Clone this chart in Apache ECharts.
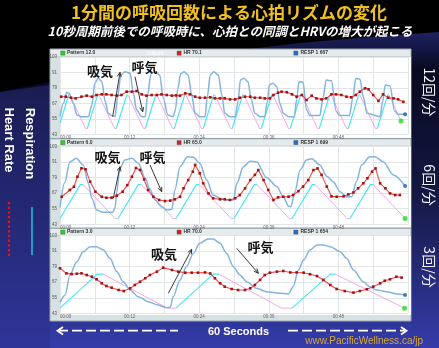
<!DOCTYPE html>
<html><head><meta charset="utf-8">
<script src="https://cdn.jsdelivr.net/npm/echarts@6/dist/echarts.min.js"></script>
<style>html,body{margin:0;padding:0;background:#000;}#c{width:439px;height:348px;}</style>
</head><body><div id="c"></div>
<script>
// ---- tick labels / texts ----
const timeTicks = ['00:00','00:12','00:24','00:36','00:48'];
const yTicks = [43,55,67,79,91,103];
const rateLabels = ['12回/分','6回/分','3回/分'];
const legendPattern = ['Pattern 12.0','Pattern 6.0','Pattern 3.0'];
const legendHR = ['HR 70.1','HR 65.0','HR 70.0'];
const legendResp = ['RESP 1 667','RESP 1 699','RESP 1 654'];

// ---- panel 1 : 12 breaths / min ----
const resp12 = [[0,56.7],[0.6,67.1],[1.15,75.6],[1.55,74.8],[2.3,67.1],[2.9,58],[3.7,56.7],[4.9,56.7],[5.5,65.8],[6.0,82.6],[6.6,86.5],[7.2,83.9],[7.8,68.4],[8.3,59.3],[8.9,57.5],[9.5,56.7],[9.9,70.9],[10.5,89],[11.2,91.6],[12.1,90.3],[12.6,76.1],[13.2,61.9],[14.1,56.7],[14.7,56.7],[15.1,73.5],[15.7,90.3],[16.4,91.6],[17.2,89],[17.8,70.9],[18.6,58],[19.5,56.7],[19.9,62],[20.3,78],[20.8,90],[21.4,91.6],[22.1,89],[22.7,73.5],[23.3,59.3],[24.1,56.7],[25.0,56.7],[25.4,72],[25.9,89],[26.5,91.6],[27.3,89],[27.9,73.5],[28.4,59.3],[29.3,56.7],[30.2,56.7],[30.7,68.4],[31.1,85.2],[31.7,86.5],[32.4,83.9],[33.0,69.6],[33.6,59.3],[34.5,56.7],[35.3,56.7],[35.7,67.1],[36.1,81.3],[36.7,82.6],[37.4,80],[37.9,67.1],[38.5,59.3],[39.4,56.7],[40.4,56.7],[40.8,70],[41.2,83.8],[41.9,83.5],[42.5,62],[43.1,57.5],[44.8,57.5],[45.3,70],[45.9,85.1],[46.8,84.5],[47.6,61],[48.2,57.5],[49.9,57.5],[50.5,72],[51.0,86.4],[51.7,86],[52.3,72],[52.9,59.3],[55.2,56.7],[55.6,68],[56.1,81.2],[56.9,80.5],[57.7,61],[58.3,58.5],[59.5,58.5]];
const hr12 = [[0.2,72.2],[1.0,72.2],[1.9,71.4],[2.7,70.9],[3.7,72.2],[4.6,73.0],[5.5,72.2],[6.3,73.5],[7.2,74.0],[8.0,74.0],[8.9,73.5],[9.8,73.0],[10.6,73.5],[11.5,76.1],[12.4,76.1],[13.2,76.6],[14.1,74.0],[14.9,73.0],[15.8,73.5],[16.7,73.5],[17.5,74.0],[18.4,73.5],[19.3,73.0],[20.0,73.2],[20.7,73.0],[21.6,74.8],[22.4,74.0],[23.3,72.2],[24.1,71.4],[25.0,71.4],[25.9,71.7],[26.7,70.9],[27.6,70.9],[28.4,70.9],[29.3,70.1],[30.2,70.1],[31.0,71.4],[31.9,72.2],[32.8,72.2],[33.6,71.4],[34.5,71.4],[35.3,70.9],[36.2,70.9],[36.8,73.5],[37.6,75.3],[38.2,76.1],[39.1,75.6],[40.0,74.0],[40.8,72.2],[41.7,73.5],[42.5,69.6],[43.4,73.0],[44.2,70.9],[45.1,70.1],[45.9,70.9],[46.8,74.0],[47.6,74.0],[48.5,73.5],[49.4,72.2],[50.2,71.7],[51.0,73.5],[51.7,76.1],[52.6,78.7],[53.2,77.9],[54.0,73.5],[54.9,68.9],[55.7,74.0],[56.6,71.4],[57.5,70.9],[58.3,70.1],[59.2,68.2]];
const pattern12 = [[0,51.8],[1.5,73.5],[1.7,73.5],[4.4,47.5],[4.7,47.5],[6.5,73.5],[6.7,73.5],[9.4,47.5],[9.7,47.5],[11.5,73.5],[11.7,73.5],[14.4,47.5],[14.7,47.5],[16.5,73.5],[16.7,73.5],[19.4,47.5],[19.7,47.5],[21.5,73.5],[21.7,73.5],[24.4,47.5],[24.7,47.5],[26.5,73.5],[26.7,73.5],[29.4,47.5],[29.7,47.5],[31.5,73.5],[31.7,73.5],[34.4,47.5],[34.7,47.5],[36.5,73.5],[36.7,73.5],[39.4,47.5],[39.7,47.5],[41.5,73.5],[41.7,73.5],[44.4,47.5],[44.7,47.5],[46.5,73.5],[46.7,73.5],[49.4,47.5],[49.7,47.5],[51.5,73.5],[51.7,73.5],[54.4,47.5],[54.7,47.5],[56.5,73.5],[56.7,73.5],[58.8,53.3]];

// ---- panel 2 : 6 breaths / min ----
const resp6 = [[0,56],[0.8,75],[1.7,91],[2.8,93.8],[4.0,88.6],[4.9,74.5],[5.5,63],[6.3,54],[7.4,52.2],[9.1,52.2],[9.5,56],[9.8,68],[10.3,86],[11.2,92.5],[12.4,93.8],[13.5,90],[14.7,78.4],[15.5,70],[16.4,61.7],[17.5,56.5],[18.4,54],[19.3,54.5],[19.8,69.4],[20.7,87.3],[22.0,95],[23.0,94.5],[24.1,89.9],[25.3,77],[26.4,65.5],[27.6,63],[28.7,61.7],[29.9,61.7],[30.5,74.5],[31.6,87.3],[32.8,91.5],[33.9,91],[35.6,79],[37.4,72],[38.5,64],[39.4,57],[39.8,56.5],[40.5,68],[41.4,84.8],[42.5,92.5],[43.4,93.5],[44.8,88.6],[46.0,80],[47.1,75.8],[48.3,68],[49.4,64.2],[50.3,64.2],[51.1,75.8],[52.0,88.6],[53.4,95],[54.3,95],[55.7,91.2],[57.5,81],[59.5,72.5]];
const hr6 = [[0.3,64.2],[1.7,69.4],[2.4,71.9],[3.0,79.6],[3.7,86.1],[4.4,85.3],[5.2,75.8],[6.1,68.1],[7.2,64.2],[8.0,63.4],[8.9,63.5],[9.8,65],[10.8,68.1],[11.6,73.1],[12.4,79.6],[13.1,86.3],[13.8,84.8],[14.5,77.5],[15.2,69.4],[16.1,64.2],[17.1,61.7],[18.1,60.9],[19.0,61.2],[19.8,62.2],[20.7,64.2],[21.3,70.7],[22.1,77],[22.9,83.5],[23.3,88.7],[24.1,82.2],[24.7,74.5],[25.6,66.8],[26.4,63],[27.6,62.2],[28.4,62.2],[29.3,61.7],[30.2,63],[31.0,65.5],[31.9,70.7],[32.8,77],[33.6,81],[34.2,84.7],[35.1,77],[35.9,69.4],[36.8,61.7],[37.6,63.7],[38.5,64.2],[39.4,64.2],[40.2,65.5],[41.1,68.5],[41.9,72],[42.8,77],[43.7,84.7],[44.4,86],[45.1,81],[46.0,72],[46.8,64.5],[47.7,64.2],[48.9,64.5],[49.7,66],[50.6,67.5],[51.4,70.7],[52.3,74.5],[53.0,78.4],[53.8,83.5],[54.4,86],[55.2,74.5],[56.1,70.7],[56.9,66.8],[57.8,65.5],[58.6,65.5]];
const pattern6 = [[0,47.5],[3.5,73.5],[4,73.5],[9.5,47.5],[10,47.5],[13.5,73.5],[14,73.5],[19.5,47.5],[20,47.5],[23.5,73.5],[24,73.5],[29.5,47.5],[30,47.5],[33.5,73.5],[34,73.5],[39.5,47.5],[40,47.5],[43.5,73.5],[44,73.5],[49.5,47.5],[50,47.5],[53.5,73.5],[54,73.5],[59.5,47.5]];

// ---- panel 3 : 3 breaths / min ----
const resp3 = [[0,51.5],[0.9,57.2],[1.7,72.6],[2.9,82.9],[4.0,90.6],[5.2,94.5],[6.3,94.5],[7.5,92],[8.6,85.5],[9.8,75.2],[10.9,67.4],[12.1,61],[13.5,55.8],[15.2,52],[16.9,49.4],[18.2,47.5],[19.0,47.6],[19.5,55.8],[20.7,68.8],[21.8,79],[23.0,89.4],[24.1,97.1],[25.5,100.5],[26.4,100.5],[27.6,97.1],[28.7,89.4],[29.9,79],[31.0,72.6],[32.2,67.4],[33.9,62.3],[35.6,59.7],[37.9,58.5],[39.4,58],[40.2,63.6],[41.1,76.5],[42.0,84.2],[43.1,92],[44.3,95.8],[45.4,95.8],[46.6,94.5],[48.3,90.6],[49.4,85.5],[50.6,76.5],[52.3,67.4],[53.4,63.6],[54.6,61],[56.3,59.7],[58.0,58],[59.5,57.2]];
const hr3 = [[0,77.8],[1.1,73.9],[2.0,73.3],[2.9,73.6],[3.7,73.9],[4.6,72.6],[5.5,71.3],[6.3,69.3],[7.2,66.2],[8.0,64.1],[8.9,62.8],[10.1,61],[11.0,60.2],[12.1,62.3],[12.9,64.9],[13.8,67.4],[14.7,70.1],[15.5,72.6],[16.7,75.2],[17.8,78.3],[19.3,76.5],[20.4,75.2],[21.6,74.4],[22.7,74.4],[23.8,74.4],[25.0,74.6],[25.9,73.8],[26.7,70.1],[27.6,66.2],[28.4,63.6],[29.6,61.8],[30.7,61],[31.9,61],[32.8,62.3],[33.6,64.9],[34.5,68.8],[35.3,72.6],[36.2,74.4],[37.4,75.2],[38.5,75.7],[39.7,74.6],[40.8,74.6],[42.0,74.4],[43.1,73.2],[44.3,71.8],[45.4,68.8],[46.6,64.9],[47.7,61.8],[49.1,60.2],[50.6,59],[51.7,60.2],[52.9,61.6],[54.0,63.6],[55.2,66.2],[56.0,68.2],[56.9,69.3],[58.0,71.3],[58.9,70.6]];
const pattern3 = [[0,47],[6.4,73.3],[7.4,73.3],[18.5,47],[20,47],[26.4,73.3],[27.4,73.3],[38.2,47],[40,47],[46.6,73.3],[47.4,73.3],[59.4,47]];

const panels = [
  {resp: resp12, hr: hr12, pattern: pattern12},
  {resp: resp6, hr: hr6, pattern: pattern6},
  {resp: resp3, hr: hr3, pattern: pattern3}
];

// ---- layout ----
const gridTops = [57, 146.3, 235.7];
const gridHeights = [77.3, 78, 77.6];
const headerTops = [49.5, 139, 228.5];
const whiteTops = [56.5, 146, 235.5];
const whiteBottoms = [138, 227.5, 315];

function splitPattern(p){
  const vals = p.map(d=>d[1]);
  const mid = (Math.max(...vals)+Math.min(...vals))/2;
  const up=[], down=[];
  for (let i=0;i<p.length-1;i++){
    const a=p[i], b=p[i+1];
    const rising = b[1]>a[1] || (b[1]===a[1] && a[1]>mid);
    const tgt = rising?up:down;
    const last = tgt[tgt.length-1];
    if (!last || last[0]!==a[0] || last[1]!==a[1]) { if (last) tgt.push([a[0], null]); tgt.push(a); }
    tgt.push(b);
  }
  return {up, down};
}

const grid=[], xAxis=[], yAxis=[], series=[];
panels.forEach((p,i)=>{
  grid.push({left:60, top:gridTops[i], width:348, height:gridHeights[i]});
  xAxis.push({gridIndex:i, type:'value', min:0, max:60, interval:6,
    axisLine:{show:false}, axisTick:{show:false},
    splitLine:{show:true, lineStyle:{color:'#e3e6e8', width:1}},
    axisLabel:{fontSize:4.5, color:'#666', margin:1, showMaxLabel:false, alignMinLabel:'left',
      fontFamily:'Liberation Sans',
      formatter: v=>{const k=v/12; return (Number.isInteger(k)&&k<timeTicks.length)?timeTicks[k]:'';}}});
  yAxis.push({gridIndex:i, type:'value', min:yTicks[0], max:yTicks[yTicks.length-1], interval:yTicks[1]-yTicks[0],
    axisLine:{show:false}, axisTick:{show:false},
    splitLine:{show:true, lineStyle:{color:'#e3e6e8', width:1}},
    axisLabel:{fontSize:4.5, color:'#555', margin:3, fontFamily:'Liberation Sans',
      formatter: v=> yTicks.includes(v)? String(v):''}});
  const sp = splitPattern(p.pattern);
  series.push({type:'line', xAxisIndex:i, yAxisIndex:i, data:sp.up, showSymbol:false, z:2,
    lineStyle:{color:'#3fe6f6', width:1.1}, itemStyle:{color:'#3fe6f6'}});
  series.push({type:'line', xAxisIndex:i, yAxisIndex:i, data:sp.down, showSymbol:false, z:2,
    lineStyle:{color:'#f3a8ee', width:1}, itemStyle:{color:'#f3a8ee'}});
  series.push({type:'line', xAxisIndex:i, yAxisIndex:i, data:p.resp, showSymbol:false, smooth:0.3, smoothMonotone:'x', z:3,
    lineStyle:{color:'#82b4df', width:1.5}, itemStyle:{color:'#82b4df'}});
  series.push({type:'line', xAxisIndex:i, yAxisIndex:i, data:p.hr, showAllSymbol:true, symbol:'rect', symbolSize:2.6, z:4,
    lineStyle:{color:'#f04a4a', width:1.1}, itemStyle:{color:'#a31212'}});
  series.push({type:'scatter', xAxisIndex:i, yAxisIndex:i, data:[p.resp[p.resp.length-1]], symbolSize:4, z:5,
    itemStyle:{color:'#1d5ea6'}});
  series.push({type:'scatter', xAxisIndex:i, yAxisIndex:i, data:[p.pattern[p.pattern.length-1]], symbolSize:5, z:5,
    itemStyle:{color:'#22dd22'}});
});

// ---- decorations ----
const JP = '"Noto Sans CJK JP", sans-serif';
const LAT = '"Liberation Sans", Arial, sans-serif';
const g = [];
// slide background
g.push({type:'polygon', silent:true, z:-30, shape:{points:[[0,92],[60,80],[120,69],[180,59],[240,50],[300,43],[370,37],[439,32],[439,348],[0,348]]},
  style:{fill:{type:'linear',x:0,y:0,x2:0,y2:1,colorStops:[{offset:0,color:'#1e2262'},{offset:0.12,color:'#08091f'},{offset:0.5,color:'#141741'},{offset:1,color:'#353caa'}]}}});
g.push({type:'polygon', silent:true, z:-29, shape:{points:[[0,92],[50,85],[50,348],[0,348]]},
  style:{fill:{type:'linear',x:0,y:0,x2:0,y2:1,colorStops:[{offset:0,color:'#1a1c52'},{offset:1,color:'#2f3598'}]}}});
// screenshot frame
g.push({type:'rect', silent:true, z:-20, shape:{x:50,y:49,width:361,height:272}, style:{fill:'#d7e1e4', stroke:'#9aa7ac', lineWidth:1}});
for (let i=0;i<3;i++){
  g.push({type:'rect', silent:true, z:-19, shape:{x:60,y:whiteTops[i],width:351,height:whiteBottoms[i]-whiteTops[i]}, style:{fill:'#ffffff'}});
  g.push({type:'rect', silent:true, z:-18, shape:{x:50.5,y:headerTops[i],width:360,height:7}, style:{fill:'#e5ebed', stroke:'#b5c0c4', lineWidth:0.6}});
  const ty = headerTops[i]+3.6;
  g.push({type:'rect', silent:true, z:-17, shape:{x:60.7,y:ty-2.1,width:4.2,height:4.2}, style:{fill:'#1ed61e', stroke:'#555', lineWidth:0.4}});
  g.push({type:'text', silent:true, z:-17, x:67, y:ty, style:{text:legendPattern[i], fontSize:5, fontWeight:'bold', fontFamily:LAT, fill:'#333', verticalAlign:'middle'}});
  g.push({type:'rect', silent:true, z:-17, shape:{x:177,y:ty-2.1,width:4.2,height:4.2}, style:{fill:'#d62020', stroke:'#555', lineWidth:0.4}});
  g.push({type:'text', silent:true, z:-17, x:183.5, y:ty, style:{text:legendHR[i], fontSize:5, fontWeight:'bold', fontFamily:LAT, fill:'#333', verticalAlign:'middle'}});
  g.push({type:'rect', silent:true, z:-17, shape:{x:293.8,y:ty-2.1,width:4.2,height:4.2}, style:{fill:'#1f70c2', stroke:'#555', lineWidth:0.4}});
  g.push({type:'text', silent:true, z:-17, x:300.5, y:ty, style:{text:legendResp[i], fontSize:5, fontWeight:'bold', fontFamily:LAT, fill:'#333', verticalAlign:'middle'}});
}
g.push({type:'text', silent:true, z:-17, x:147, y:53, style:{text:'Infiniti', fontSize:5.5, fontWeight:'bold', fontFamily:LAT, fill:'rgba(255,255,255,0.85)', verticalAlign:'middle'}});
g.push({type:'line', silent:true, z:-16, shape:{x1:50,y1:138.6,x2:411,y2:138.6}, style:{stroke:'#7f8e94', lineWidth:0.8}});
g.push({type:'line', silent:true, z:-16, shape:{x1:50,y1:228.1,x2:411,y2:228.1}, style:{stroke:'#7f8e94', lineWidth:0.8}});

// titles
g.push({type:'text', silent:true, z:50, x:229, y:13, style:{text:'1分間の呼吸回数による心拍リズムの変化', fontSize:17, fontWeight:'bold', fontFamily:JP,
  fill:'#f0bf22', align:'center', verticalAlign:'middle'}});
g.push({type:'text', silent:true, z:50, x:230, y:31.5, style:{text:'10秒周期前後での呼吸時に、心拍との同調とHRVの増大が起こる', fontSize:12.5, fontWeight:'bold', fontStyle:'italic', fontFamily:JP, fill:'#ffffff', align:'center', verticalAlign:'middle'}});

// left legend
g.push({type:'text', silent:true, z:50, x:30, y:143.5, rotation:-Math.PI/2, style:{text:'Respiration', fontSize:13, fontWeight:'bold', fontFamily:LAT, fill:'#ffffff', align:'center', verticalAlign:'middle'}});
g.push({type:'text', silent:true, z:50, x:8.5, y:140, rotation:-Math.PI/2, style:{text:'Heart Rate', fontSize:13, fontWeight:'bold', fontFamily:LAT, fill:'#ffffff', align:'center', verticalAlign:'middle'}});
g.push({type:'line', silent:true, z:50, shape:{x1:9,y1:202,x2:9,y2:256}, style:{stroke:'#e81414', lineWidth:2.2, lineDash:[2.2,2.5]}});
g.push({type:'line', silent:true, z:50, shape:{x1:32,y1:207,x2:32,y2:255}, style:{stroke:'#1e9ec2', lineWidth:2}});

// right rate labels
const rateY = [92, 185, 267];
rateLabels.forEach((t,i)=>{
  g.push({type:'text', silent:true, z:50, x:429, y:rateY[i], rotation:-Math.PI/2, style:{text:t, fontSize:14, fontFamily:JP, fill:'#f2f2f8', align:'center', verticalAlign:'middle'}});
});

// bottom
g.push({type:'text', silent:true, z:50, x:238.5, y:332, style:{text:'60 Seconds', fontSize:11, fontWeight:'bold', fontFamily:LAT, fill:'#ffffff', align:'center', verticalAlign:'middle'}});
g.push({type:'line', silent:true, z:50, shape:{x1:58,y1:330.7,x2:178,y2:330.7}, style:{stroke:'#ffffff', lineWidth:1.8, lineDash:[10,4]}});
g.push({type:'polyline', silent:true, z:50, shape:{points:[[63,327],[57.5,330.7],[63,334.4]]}, style:{stroke:'#ffffff', lineWidth:1.8, fill:null}});
g.push({type:'line', silent:true, z:50, shape:{x1:288,y1:330.7,x2:406,y2:330.7}, style:{stroke:'#ffffff', lineWidth:1.8, lineDash:[10,4]}});
g.push({type:'polyline', silent:true, z:50, shape:{points:[[401,327],[406.5,330.7],[401,334.4]]}, style:{stroke:'#ffffff', lineWidth:1.8, fill:null}});
g.push({type:'text', silent:true, z:50, x:423, y:341.5, style:{text:'www.PacificWellness.ca/jp', fontSize:10, fontFamily:LAT, fill:'#d6a83a', align:'right', verticalAlign:'middle'}});

// annotations in panels
function arrow(x1,y1,x2,y2){
  const a=Math.atan2(y2-y1,x2-x1), L=4.5, W=2;
  const bx=x2-L*Math.cos(a), by=y2-L*Math.sin(a), px=-Math.sin(a)*W, py=Math.cos(a)*W;
  g.push({type:'line', silent:true, z:60, shape:{x1,y1,x2,y2}, style:{stroke:'#222', lineWidth:0.9}});
  g.push({type:'polyline', silent:true, z:60, shape:{points:[[bx+px,by+py],[x2,y2],[bx-px,by-py]]}, style:{stroke:'#222', lineWidth:0.9, fill:null}});
}
function label(t,x,y){ g.push({type:'text', silent:true, z:60, x, y, style:{text:t, fontSize:13, fontWeight:'bold', fontFamily:JP, fill:'#111', align:'center', verticalAlign:'middle'}}); }
label('吸気',100,71); label('呼気',144.5,66.7);
arrow(112.7,116.7,120,72.3); arrow(135,76.7,142.7,111.7);
label('吸気',107.5,156.7); label('呼気',152.5,156.7);
arrow(113.3,198.3,120,166.7); arrow(150,165,161.7,191.7);
label('吸気',164,254); label('呼気',260.5,247.5);
arrow(168.3,293.3,191.7,249.3); arrow(236.7,248.3,258.3,273.3);

const chart = echarts.init(document.getElementById('c'), null, {renderer:'canvas'});
chart.setOption({backgroundColor:'#000', animation:false, grid, xAxis, yAxis, series, graphic:g});
</script></body></html>
